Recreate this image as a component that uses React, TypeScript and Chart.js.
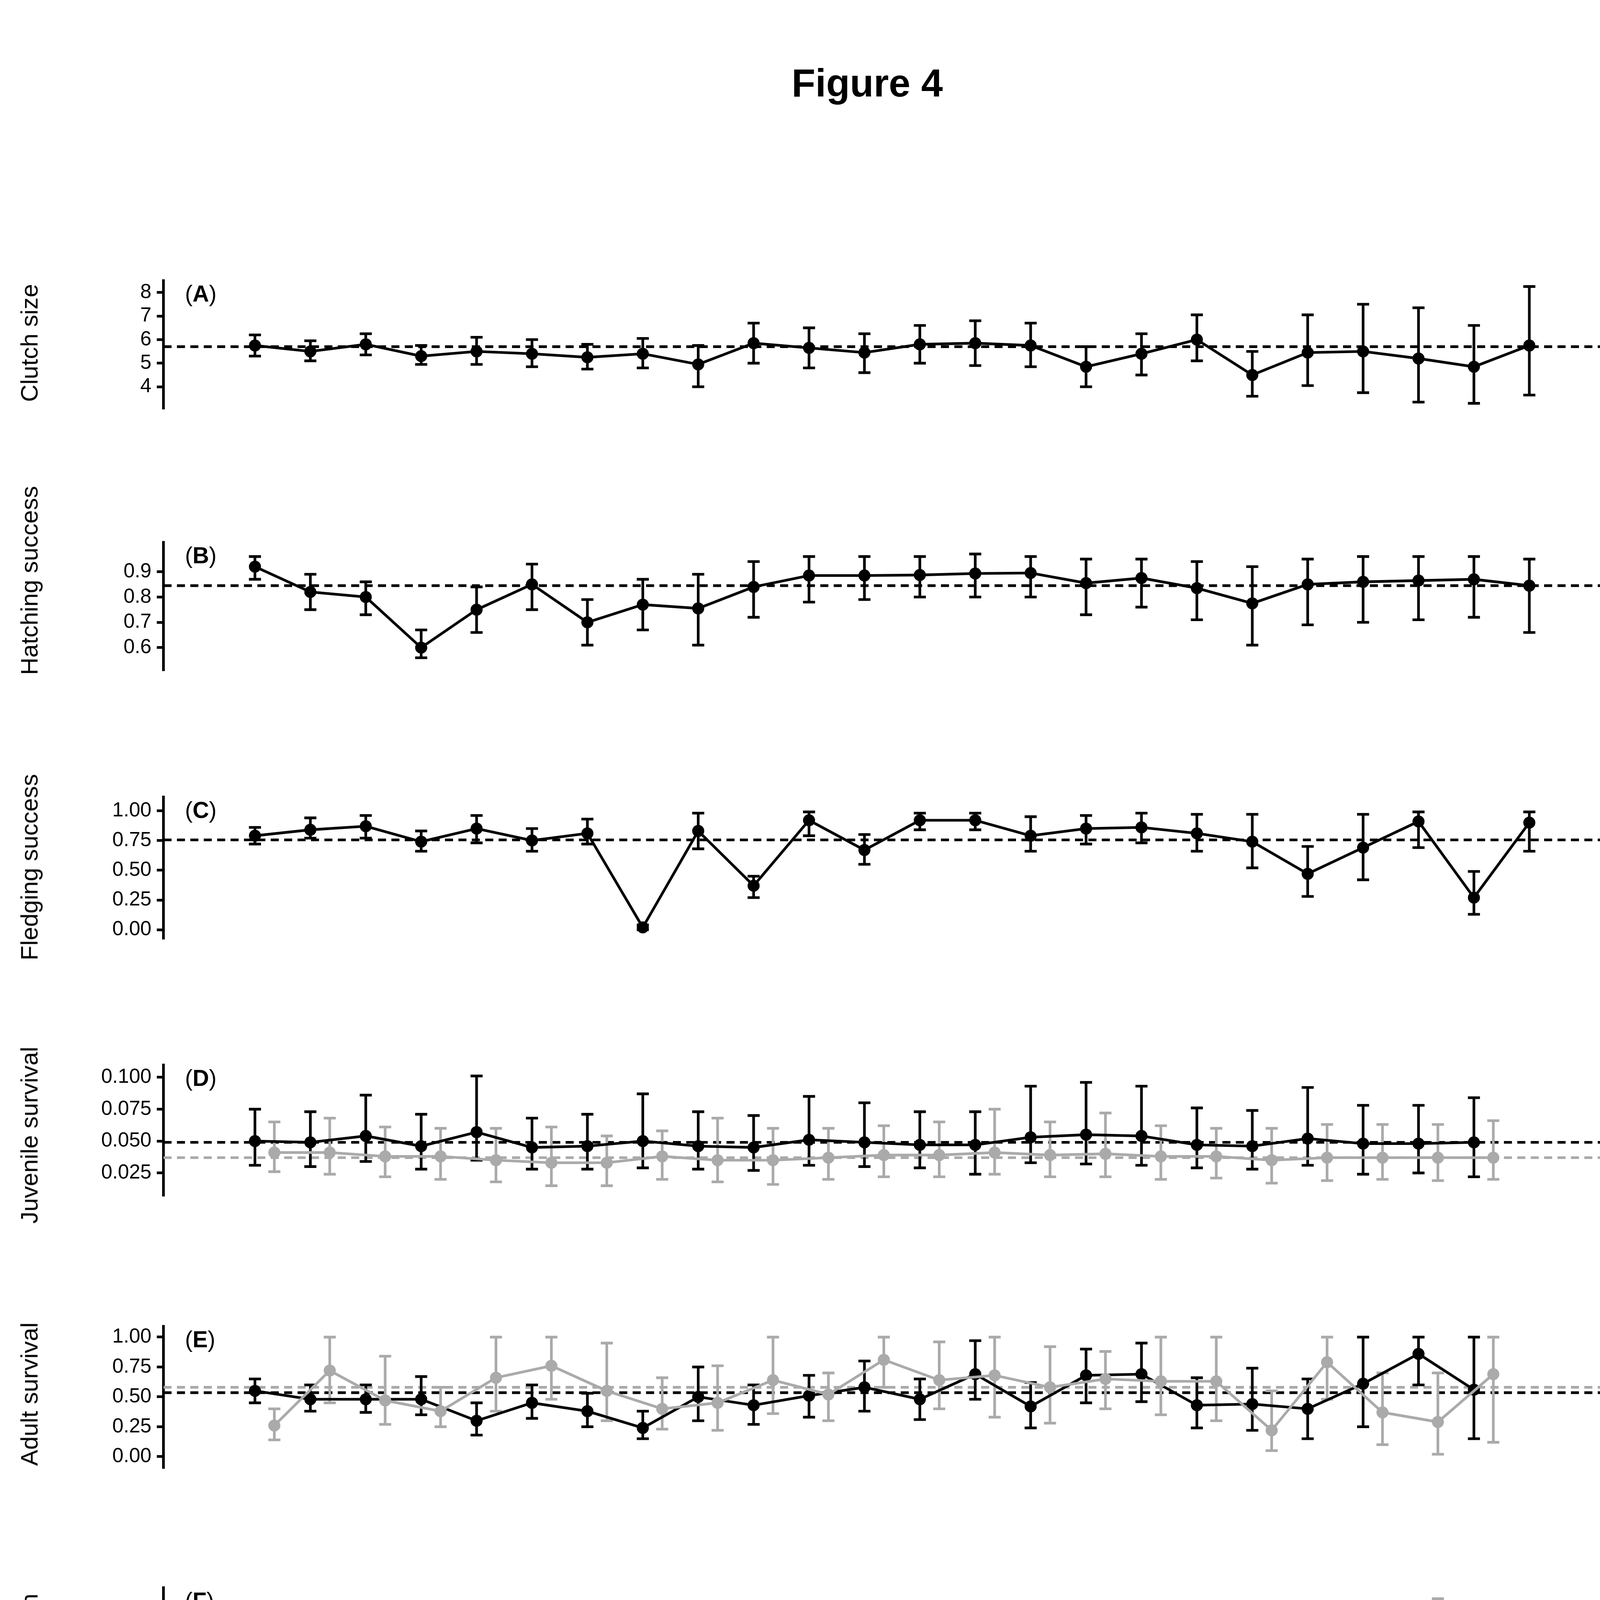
import { useEffect, useRef } from 'react';
import { Chart, registerables } from 'chart.js';

Chart.register(...registerables);

const K = 4200 / 1224;
const FONT = '"Liberation Sans", Arial, sans-serif';

const years = [1987, 1988, 1989, 1990, 1991, 1992, 1993, 1994, 1995, 1996, 1997, 1998, 1999, 2000, 2001, 2002, 2003, 2004, 2005, 2006, 2007, 2008, 2009, 2010];
const xTicks = years;

// A clutch size
const clutchV = [5.75, 5.5, 5.8, 5.3, 5.5, 5.4, 5.25, 5.4, 4.95, 5.85, 5.65, 5.45, 5.8, 5.85, 5.75, 4.85, 5.4, 6.0, 4.5, 5.45, 5.5, 5.2, 4.85, 5.75];
const clutchLo = [5.3, 5.1, 5.35, 4.95, 4.95, 4.85, 4.75, 4.8, 4.0, 5.0, 4.8, 4.6, 5.0, 4.9, 4.85, 4.0, 4.5, 5.1, 3.6, 4.05, 3.75, 3.35, 3.3, 3.65];
const clutchHi = [6.2, 5.95, 6.25, 5.75, 6.1, 6.0, 5.8, 6.05, 5.75, 6.7, 6.5, 6.25, 6.6, 6.8, 6.7, 5.7, 6.25, 7.05, 5.5, 7.05, 7.5, 7.35, 6.6, 8.25];

// B hatching success
const hatchV = [0.92, 0.82, 0.8, 0.6, 0.75, 0.85, 0.7, 0.77, 0.755, 0.84, 0.885, 0.885, 0.887, 0.893, 0.895, 0.855, 0.875, 0.835, 0.775, 0.85, 0.86, 0.865, 0.87, 0.845];
const hatchLo = [0.87, 0.75, 0.73, 0.56, 0.66, 0.75, 0.61, 0.67, 0.61, 0.72, 0.78, 0.79, 0.8, 0.8, 0.8, 0.73, 0.76, 0.71, 0.61, 0.69, 0.7, 0.71, 0.72, 0.66];
const hatchHi = [0.96, 0.89, 0.86, 0.67, 0.84, 0.93, 0.79, 0.87, 0.89, 0.94, 0.96, 0.96, 0.96, 0.97, 0.96, 0.95, 0.95, 0.94, 0.92, 0.95, 0.96, 0.96, 0.96, 0.95];

// C fledging success
const fledgeV = [0.79, 0.84, 0.87, 0.74, 0.85, 0.75, 0.81, 0.02, 0.83, 0.37, 0.92, 0.67, 0.92, 0.92, 0.79, 0.85, 0.86, 0.81, 0.74, 0.47, 0.69, 0.91, 0.27, 0.9];
const fledgeLo = [0.72, 0.77, 0.77, 0.66, 0.73, 0.66, 0.72, 0.0, 0.68, 0.27, 0.79, 0.55, 0.84, 0.84, 0.66, 0.72, 0.73, 0.66, 0.52, 0.28, 0.42, 0.69, 0.13, 0.66];
const fledgeHi = [0.86, 0.94, 0.96, 0.83, 0.96, 0.85, 0.93, 0.04, 0.98, 0.45, 0.99, 0.8, 0.98, 0.98, 0.95, 0.96, 0.98, 0.97, 0.97, 0.7, 0.97, 0.99, 0.49, 0.99];

// D juvenile survival
const juvV = [0.05, 0.049, 0.054, 0.046, 0.057, 0.045, 0.046, 0.05, 0.046, 0.045, 0.051, 0.049, 0.047, 0.047, 0.053, 0.055, 0.054, 0.047, 0.046, 0.052, 0.048, 0.048, 0.049];
const juvLo = [0.031, 0.03, 0.034, 0.028, 0.035, 0.028, 0.028, 0.029, 0.028, 0.027, 0.031, 0.03, 0.029, 0.024, 0.033, 0.032, 0.031, 0.029, 0.028, 0.031, 0.024, 0.025, 0.022];
const juvHi = [0.075, 0.073, 0.086, 0.071, 0.101, 0.068, 0.071, 0.087, 0.073, 0.07, 0.085, 0.08, 0.073, 0.073, 0.093, 0.096, 0.093, 0.076, 0.074, 0.092, 0.078, 0.078, 0.084];
const juvGreyV = [0.041, 0.041, 0.038, 0.038, 0.035, 0.033, 0.033, 0.038, 0.035, 0.035, 0.037, 0.039, 0.039, 0.041, 0.039, 0.04, 0.038, 0.038, 0.035, 0.037, 0.037, 0.037, 0.037];
const juvGreyLo = [0.026, 0.024, 0.022, 0.02, 0.018, 0.015, 0.015, 0.02, 0.018, 0.016, 0.02, 0.022, 0.022, 0.024, 0.022, 0.022, 0.02, 0.021, 0.017, 0.019, 0.02, 0.019, 0.02];
const juvGreyHi = [0.065, 0.068, 0.061, 0.06, 0.06, 0.061, 0.054, 0.058, 0.068, 0.06, 0.06, 0.062, 0.065, 0.075, 0.065, 0.072, 0.062, 0.06, 0.06, 0.063, 0.063, 0.063, 0.066];

// E adult survival
const adultV = [0.55, 0.48, 0.48, 0.48, 0.3, 0.45, 0.38, 0.24, 0.5, 0.43, 0.51, 0.58, 0.48, 0.69, 0.42, 0.68, 0.69, 0.43, 0.44, 0.4, 0.61, 0.86, 0.56];
const adultLo = [0.45, 0.38, 0.37, 0.35, 0.18, 0.32, 0.25, 0.15, 0.3, 0.27, 0.33, 0.38, 0.31, 0.48, 0.24, 0.45, 0.46, 0.24, 0.22, 0.15, 0.25, 0.6, 0.15];
const adultHi = [0.65, 0.6, 0.6, 0.67, 0.45, 0.6, 0.53, 0.38, 0.75, 0.6, 0.68, 0.8, 0.65, 0.97, 0.62, 0.9, 0.95, 0.66, 0.74, 0.65, 1.0, 1.0, 1.0];
const adultGreyV = [0.26, 0.72, 0.47, 0.38, 0.66, 0.76, 0.55, 0.4, 0.45, 0.64, 0.52, 0.81, 0.64, 0.68, 0.58, 0.65, 0.63, 0.63, 0.22, 0.79, 0.37, 0.29, 0.69];
const adultGreyLo = [0.14, 0.45, 0.27, 0.25, 0.38, 0.48, 0.3, 0.23, 0.22, 0.36, 0.3, 0.58, 0.4, 0.33, 0.28, 0.4, 0.35, 0.3, 0.05, 0.48, 0.1, 0.02, 0.12];
const adultGreyHi = [0.4, 1.0, 0.84, 0.58, 1.0, 1.0, 0.95, 0.66, 0.76, 1.0, 0.7, 1.0, 0.96, 1.0, 0.92, 0.88, 1.0, 1.0, 0.55, 1.0, 0.7, 0.7, 1.0];

// F immigration
const immV = [0.25, 0.32, 0.32, 0.25, 0.45, 0.6, 0.32, 0.28, 0.72, 0.55, 0.45, 0.42, 0.25, 0.28, 0.32, 0.28, 0.2, 0.25, 0.22, 0.3, 0.38, 0.5, 0.32];
const immLo = [0.08, 0.1, 0.1, 0.08, 0.12, 0.2, 0.1, 0.08, 0.15, 0.15, 0.12, 0.12, 0.08, 0.08, 0.08, 0.08, 0.05, 0.05, 0.05, 0.05, 0.05, 0.05, 0.05];
const immHi = [0.5, 0.68, 0.7, 0.55, 0.9, 1.18, 0.72, 0.58, 1.68, 1.22, 1.15, 1.08, 0.65, 0.8, 0.82, 0.7, 0.6, 0.65, 0.58, 0.88, 1.32, 1.75, 1.12];
const immGreyV = [0.6, 0.15, 0.45, 0.3, 0.2, 0.35, 0.2, 0.15, 0.7, 0.28, 0.45, 0.28, 0.18, 0.25, 0.28, 0.35, 0.22, 0.2, 0.2, 0.3, 0.4, 0.78, 0.38];
const immGreyLo = [0.3, 0.05, 0.2, 0.1, 0.05, 0.1, 0.05, 0.05, 0.2, 0.08, 0.12, 0.08, 0.05, 0.05, 0.05, 0.08, 0.05, 0.05, 0.05, 0.05, 0.05, 0.1, 0.05];
const immGreyHi = [0.92, 0.45, 0.88, 0.5, 0.6, 0.85, 0.6, 0.42, 1.58, 0.82, 1.05, 0.85, 0.5, 0.8, 0.75, 0.92, 0.6, 0.6, 0.55, 0.98, 1.35, 2.5, 1.4];

// G lambda
const lamV = [0.93, 0.93, 0.97, 0.7, 0.9, 1.13, 0.78, 0.52, 1.27, 1.0, 1.07, 1.12, 0.85, 1.05, 0.88, 1.02, 0.92, 0.8, 0.53, 0.85, 0.85, 1.22, 0.9];
const lamLo = [0.78, 0.77, 0.8, 0.6, 0.7, 0.9, 0.62, 0.42, 0.9, 0.75, 0.8, 0.85, 0.7, 0.8, 0.68, 0.78, 0.7, 0.6, 0.4, 0.45, 0.45, 0.68, 0.45];
const lamHi = [1.1, 1.1, 1.15, 0.85, 1.12, 1.45, 1.0, 0.65, 1.82, 1.35, 1.47, 1.48, 1.1, 1.38, 1.15, 1.35, 1.2, 1.1, 0.8, 1.3, 1.45, 2.15, 1.55];

const GREY = '#aaaaaa';
const GREY_SHIFT = 0.35;

type Series = { v: number[]; lo: number[]; hi: number[] };
type Panel = {
  label: string; title: string; titleY: number; top: number; bottom: number; min: number; max: number;
  ticks: number[]; dec: number; mean: number; greyMean?: number;
  black: Series; grey?: Series; last?: boolean;
};

const panels: Panel[] = [
  { label: 'A', title: 'Clutch size', titleY: 256, top: 205, bottom: 310, min: 3.05, max: 8.5, ticks: [4, 5, 6, 7, 8], dec: 0, mean: 5.7,
    black: { v: clutchV, lo: clutchLo, hi: clutchHi } },
  { label: 'B', title: 'Hatching success', titleY: 433, top: 400, bottom: 505, min: 0.508, max: 1.016, ticks: [0.6, 0.7, 0.8, 0.9], dec: 1, mean: 0.845,
    black: { v: hatchV, lo: hatchLo, hi: hatchHi } },
  { label: 'C', title: 'Fledging success', titleY: 647, top: 590, bottom: 705, min: -0.08, max: 1.115, ticks: [0, 0.25, 0.5, 0.75, 1], dec: 2, mean: 0.755,
    black: { v: fledgeV, lo: fledgeLo, hi: fledgeHi } },
  { label: 'D', title: 'Juvenile survival', titleY: 847, top: 790, bottom: 897, min: 0.0067, max: 0.1096, ticks: [0.025, 0.05, 0.075, 0.1], dec: 3, mean: 0.049, greyMean: 0.037,
    black: { v: juvV, lo: juvLo, hi: juvHi }, grey: { v: juvGreyV, lo: juvGreyLo, hi: juvGreyHi } },
  { label: 'E', title: 'Adult survival', titleY: 1040, top: 985, bottom: 1100, min: -0.1, max: 1.09, ticks: [0, 0.25, 0.5, 0.75, 1], dec: 2, mean: 0.535, greyMean: 0.58,
    black: { v: adultV, lo: adultLo, hi: adultHi }, grey: { v: adultGreyV, lo: adultGreyLo, hi: adultGreyHi } },
  { label: 'F', title: 'Immigration', titleY: 1236, top: 1180, bottom: 1290, min: -0.1, max: 2.73, ticks: [0, 0.5, 1, 1.5, 2, 2.5], dec: 1, mean: 0.35,
    black: { v: immV, lo: immLo, hi: immHi }, grey: { v: immGreyV, lo: immGreyLo, hi: immGreyHi } },
  { label: 'G', title: '', titleY: 1434, top: 1380, bottom: 1487, min: 0.24, max: 2.22, ticks: [0.5, 1, 1.5, 2], dec: 1, mean: 0.88,
    black: { v: lamV, lo: lamLo, hi: lamHi }, last: true },
];

const AXIS_W = 122 * K;
const LW = 2 * K;

const extrasPlugin = {
  id: 'extras',
  beforeDatasetsDraw(chart: any) {
    const { ctx, chartArea, scales } = chart;
    const p: Panel = chart.options.plugins.extras.panel;
    ctx.save();
    ctx.lineWidth = LW;
    const drawMean = (m: number, color: string) => {
      const y = scales.y.getPixelForValue(m);
      ctx.strokeStyle = color;
      ctx.setLineDash([6 * K, 4 * K]);
      ctx.beginPath();
      ctx.moveTo(chartArea.left, y);
      ctx.lineTo(chartArea.right, y);
      ctx.stroke();
    };
    if (p.greyMean !== undefined) drawMean(p.greyMean, GREY);
    drawMean(p.mean, '#000');
    ctx.setLineDash([]);
    chart.data.datasets.forEach((ds: any) => {
      ctx.strokeStyle = ds.borderColor;
      ds.data.forEach((pt: any, i: number) => {
        const x = scales.x.getPixelForValue(pt.x);
        const y1 = scales.y.getPixelForValue(ds.lo[i]);
        const y2 = scales.y.getPixelForValue(ds.hi[i]);
        const c = 4.5 * K;
        ctx.beginPath();
        ctx.moveTo(x, y1); ctx.lineTo(x, y2);
        ctx.moveTo(x - c, y1); ctx.lineTo(x + c, y1);
        ctx.moveTo(x - c, y2); ctx.lineTo(x + c, y2);
        ctx.stroke();
      });
    });
    ctx.restore();
  },
  afterDraw(chart: any) {
    const { ctx, chartArea } = chart;
    const p: Panel = chart.options.plugins.extras.panel;
    ctx.save();
    ctx.fillStyle = '#000';
    ctx.textBaseline = 'middle';
    const fs = 17 * K;
    let x = chartArea.left + 16 * K;
    const y = chartArea.top + 11 * K;
    ctx.font = `${fs}px ${FONT}`;
    ctx.fillText('(', x, y); x += ctx.measureText('(').width;
    ctx.font = `bold ${fs}px ${FONT}`;
    ctx.fillText(p.label, x, y); x += ctx.measureText(p.label).width;
    ctx.font = `${fs}px ${FONT}`;
    ctx.fillText(')', x, y);
    if (p.last) {
      ctx.font = `${19 * K}px ${FONT}`;
      ctx.textAlign = 'center';
      ctx.fillText('λ', 22 * K, (chartArea.top + chartArea.bottom) / 2);
    }
    ctx.restore();
  },
};

const noPad = (a: any) => { a.paddingTop = 0; a.paddingBottom = 0; a.paddingLeft = 0; a.paddingRight = 0; };

function PanelChart({ p }: { p: Panel }) {
  const ref = useRef<HTMLCanvasElement>(null);
  useEffect(() => {
    if (!ref.current) return;
    const mk = (s: Series, color: string, shift: number) => ({
      data: s.v.map((v, i) => ({ x: years[i] + shift, y: v })),
      lo: s.lo, hi: s.hi,
      borderColor: color, backgroundColor: color, borderWidth: LW,
      pointRadius: 4.5 * K, pointBorderWidth: 0, tension: 0,
    });
    const datasets: any[] = [];
    if (p.grey) datasets.push(mk(p.grey, GREY, GREY_SHIFT));
    datasets.push(mk(p.black, '#000', 0));
    const tickFont = { family: FONT, size: 15 * K };
    const chart = new Chart(ref.current, {
      type: 'line',
      data: { datasets },
      plugins: [extrasPlugin],
      options: {
        animation: false, responsive: false,
        layout: { padding: { top: 0, right: 14, bottom: 0, left: 0 } },
        plugins: { legend: { display: false }, tooltip: { enabled: false }, extras: { panel: p } } as any,
        scales: {
          x: {
            type: 'linear', min: 1985.35, max: 2011.9, display: !!p.last,
            afterFit: noPad,
            grid: { display: false, drawOnChartArea: false, drawTicks: true, tickLength: 5 * K, tickWidth: LW, tickColor: '#000' } as any,
            border: { display: true, color: '#000', width: LW },
            afterBuildTicks: (a: any) => { a.ticks = xTicks.map((v) => ({ value: v })); },
            ticks: { color: '#000', font: tickFont, maxRotation: 0, autoSkip: false, padding: 4 * K,
              callback: (v: any) => (Number(v) % 2 === 1 ? String(v) : '') },
            title: { display: true, text: 'Year', color: '#000', font: { family: FONT, size: 18 * K }, padding: { top: 14 * K } },
          },
          y: {
            min: p.min, max: p.max,
            afterFit: (a: any) => { a.width = AXIS_W; noPad(a); },
            afterBuildTicks: (a: any) => { a.ticks = p.ticks.map((v) => ({ value: v })); },
            grid: { display: true, drawOnChartArea: false, tickLength: 5 * K, tickWidth: LW, tickColor: '#000' } as any,
            border: { display: true, color: '#000', width: LW },
            ticks: { color: '#000', font: tickFont, padding: 4 * K, callback: (v: any) => Number(v).toFixed(p.dec) },
          },
        },
      } as any,
    });
    return () => chart.destroy();
  }, [p]);
  const top = p.top * K;
  const h = (p.last ? 1595 - p.top : p.bottom - p.top) * K;
  return (
    <>
      <canvas ref={ref} width={4200} height={Math.round(h)}
        style={{ position: 'absolute', left: 0, top, width: 4200, height: Math.round(h) }} />
      {p.title && (
        <div style={{ position: 'absolute', left: 22 * K, top: p.titleY * K, width: 0, height: 0 }}>
          <div style={{ position: 'absolute', left: 0, top: 0, transform: 'translate(-50%, -50%) rotate(-90deg)',
            whiteSpace: 'nowrap', fontFamily: FONT, fontSize: 18 * K, lineHeight: 1 }}>{p.title}</div>
        </div>
      )}
    </>
  );
}

export default function App() {
  useEffect(() => { document.body.style.margin = '0'; }, []);
  return (
    <div style={{ position: 'relative', width: 4200, height: 5400, background: '#fff' }}>
      <div style={{ position: 'absolute', top: 62 * K - 60, left: 0, width: 4200, paddingLeft: 240, boxSizing: 'border-box', textAlign: 'center',
        fontFamily: FONT, fontWeight: 'bold', fontSize: 29 * K, lineHeight: '120px' }}>Figure 4</div>
      {panels.map((p) => <PanelChart key={p.label} p={p} />)}
    </div>
  );
}
